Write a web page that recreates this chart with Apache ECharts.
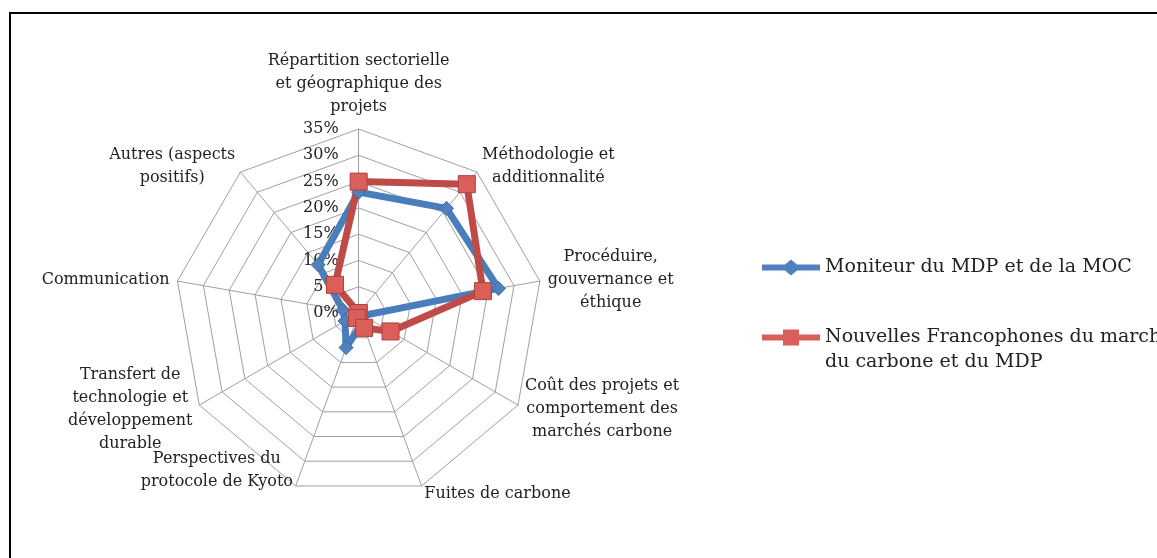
<!DOCTYPE html>
<html>
<head>
<meta charset="utf-8">
<script src="https://cdn.jsdelivr.net/npm/echarts@6/dist/echarts.min.js"></script>
<style>
  html, body { margin: 0; padding: 0; background: #fff; }
  #chart { width: 1157px; height: 558px; }
</style>
</head>
<body>
<div id="chart"></div>
<script>
// axes, clockwise from the top
var categories = [
  'Répartition sectorielle\net géographique des\nprojets',
  'Méthodologie et\nadditionnalité',
  'Procéduire,\ngouvernance et\néthique',
  'Coût des projets et\ncomportement des\nmarchés carbone',
  'Fuites de carbone',
  'Perspectives du\nprotocole de Kyoto',
  'Transfert de\ntechnologie et\ndéveloppement\ndurable',
  'Communication',
  'Autres (aspects\npositifs)'
]
var moniteur = [23, 26, 27, 1, 2, 7, 3, 3, 12]
var nouvelles = [25, 32, 24, 7, 3, 1, 0, 0, 7]
var seriesNames = ['Moniteur du MDP et de la MOC', 'Nouvelles Francophones du marché du carbone et du MDP']
var axisMax = 35
var axisStep = 5

// echarts puts indicators counter-clockwise, so reorder
var order = [0, 8, 7, 6, 5, 4, 3, 2, 1]
var pick = function(arr) {
  return order.map(function(i) { return arr[i] })
}

var font = 'DejaVu Serif'
var chart = echarts.init(document.getElementById('chart'))

var indicators = pick(categories).map(function(name, i) {
  var ind = { name: name, min: 0, max: axisMax }
  if (i === 0) {
    ind.nameGap = 11
    ind.axisLabel = {
      show: true,
      color: '#222',
      fontFamily: font,
      fontSize: 16,
      align: 'right',
      margin: 20,
      formatter: '{value}%'
    }
  }
  return ind
})

chart.setOption({
  backgroundColor: '#fff',
  animation: false,
  graphic: [
    {
      type: 'rect',
      shape: { x: 10, y: 13, width: 1400, height: 800 },
      style: { fill: 'none', stroke: '#000', lineWidth: 2 },
      silent: true,
      z: -10
    }
  ],
  legend: [
    {
      left: 757,
      top: 250,
      orient: 'vertical',
      itemWidth: 58,
      itemHeight: 16,
      selectedMode: false,
      itemStyle: { borderWidth: 0 },
      textStyle: { color: '#222', fontFamily: font, fontSize: 19, lineHeight: 25 },
      data: [
        {
          name: seriesNames[0],
          icon: 'path://M0,5 L23,5 L29,0 L35,5 L58,5 L58,11 L35,11 L29,16 L23,11 L0,11 Z'
        }
      ]
    },
    {
      left: 757,
      top: 295,
      orient: 'vertical',
      itemWidth: 58,
      itemHeight: 16,
      selectedMode: false,
      itemStyle: { borderWidth: 0 },
      textStyle: { color: '#222', fontFamily: font, fontSize: 19, lineHeight: 25 },
      formatter: function() {
        // blank first line keeps the icon level with the first text line
        return ' \nNouvelles Francophones du marché\ndu carbone et du MDP'
      },
      data: [
        {
          name: seriesNames[1],
          icon: 'path://M0,5 L21,5 L21,0 L37,0 L37,5 L58,5 L58,11 L37,11 L37,16 L21,16 L21,11 L0,11 Z'
        }
      ]
    }
  ],
  radar: {
    center: ['31%', '56.1%'],
    radius: 184,
    shape: 'polygon',
    splitNumber: axisMax / axisStep,
    indicator: indicators,
    nameGap: 8,
    axisName: {
      color: '#222',
      fontFamily: font,
      fontSize: 16,
      lineHeight: 23,
      formatter: function(v) {
        var lines = v.split('\n').map(function(l) { return '{c|' + l + '}' })
        // Kyoto label sits above its corner in the original
        if (v.indexOf('Kyoto') >= 0) lines.push('{c| }', '{c| }')
        return lines.join('\n')
      },
      rich: {
        c: { align: 'center', fontFamily: font, fontSize: 16, lineHeight: 23, color: '#222' }
      }
    },
    axisLine: { lineStyle: { color: '#a0a0a0', width: 1 } },
    axisTick: { show: false },
    splitLine: { lineStyle: { color: '#a0a0a0', width: 1 } },
    splitArea: { show: false }
  },
  series: [
    {
      type: 'radar',
      data: [
        {
          name: seriesNames[0],
          value: pick(moniteur),
          symbol: 'diamond',
          symbolSize: 14,
          lineStyle: { color: '#4A7EBB', width: 7 },
          itemStyle: { color: '#4F81BD', borderColor: '#3B69A3', borderWidth: 1 }
        },
        {
          name: seriesNames[1],
          value: pick(nouvelles),
          symbol: 'rect',
          symbolSize: 17,
          lineStyle: { color: '#BE4B48', width: 7 },
          itemStyle: { color: '#DA5F5B', borderColor: '#B23F3C', borderWidth: 1 }
        }
      ]
    }
  ]
})
</script>
</body>
</html>
